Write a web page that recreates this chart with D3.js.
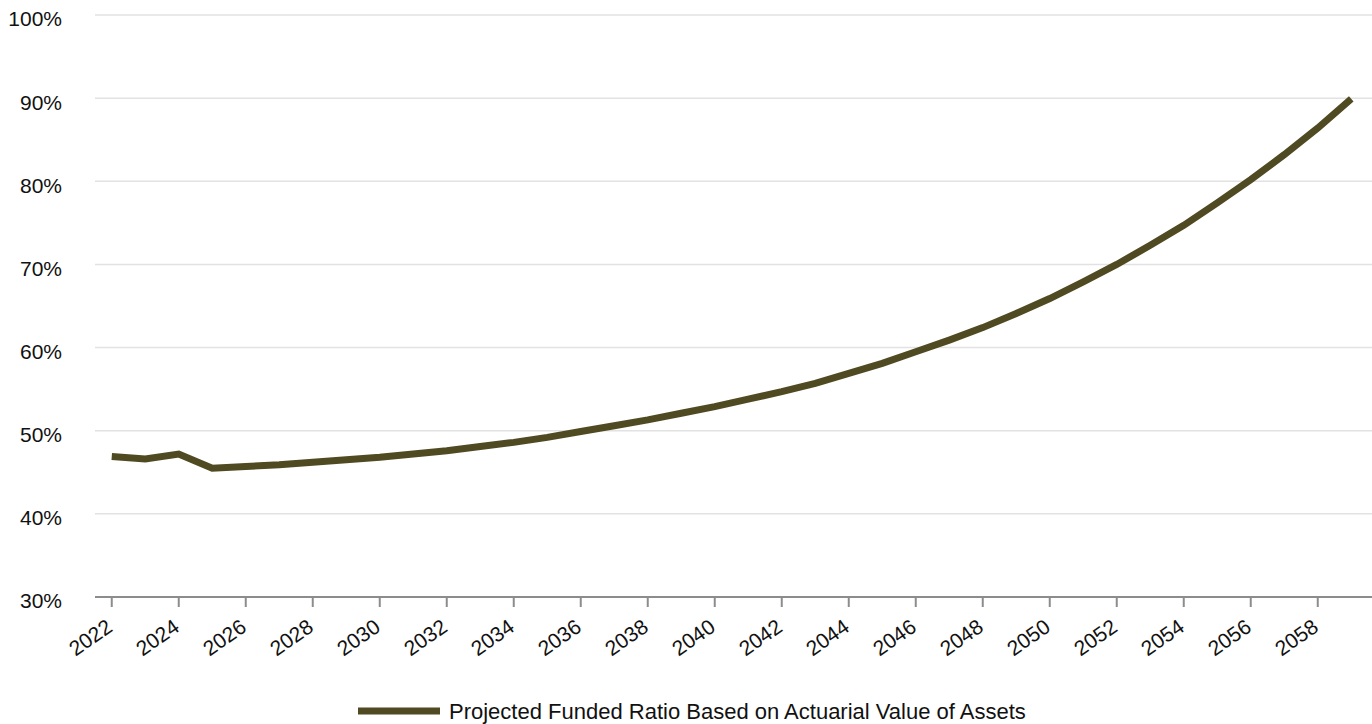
<!DOCTYPE html>
<html>
<head>
<meta charset="utf-8">
<script src="https://cdn.jsdelivr.net/npm/d3@7"></script>
<style>
html,body{margin:0;padding:0;background:#fff;}
svg{display:block;font-family:"Liberation Sans",Arial,sans-serif;}
</style>
</head>
<body>
<svg id="chart" width="1372" height="724"></svg>
<script>
const years = d3.range(2022, 2060).map(String);
const fundedRatio = [46.9, 46.6, 47.2, 45.5, 45.7, 45.9, 46.2, 46.5, 46.8, 47.2,
  47.6, 48.1, 48.6, 49.2, 49.9, 50.6, 51.3, 52.1, 52.9, 53.8,
  54.7, 55.7, 56.9, 58.1, 59.5, 60.9, 62.4, 64.1, 65.9, 67.9,
  70.0, 72.3, 74.7, 77.4, 80.2, 83.2, 86.4, 89.9];
const yTicks = [30, 40, 50, 60, 70, 80, 90, 100];
const xTickLabels = years.filter((d, i) => i % 2 === 0);
const seriesName = "Projected Funded Ratio Based on Actuarial Value of Assets";

(function () {
const svg = d3.select("#chart");
const mLeft = 95, mRight = 1368, mTop = 15, mBottom = 597;
const lineColor = "#4f4a21";
const font = "Liberation Sans, Arial, sans-serif";

const x = d3.scaleBand().domain(years).range([mLeft, mRight]);
const y = d3.scaleLinear().domain([30, 100]).range([mBottom, mTop]);

// gridlines
svg.append("g").selectAll("line").data(yTicks.filter(d => d > 30)).join("line")
  .attr("x1", mLeft).attr("x2", 1372)
  .attr("y1", d => y(d)).attr("y2", d => y(d))
  .attr("stroke", "#e2e2e2").attr("stroke-width", 1.5);

// y axis labels
const yAxis = d3.axisLeft(y).tickValues(yTicks).tickFormat(d => d + "%").tickSize(0).tickPadding(0);
const yg = svg.append("g").attr("transform", `translate(62,0)`).call(yAxis);
yg.select(".domain").remove();
yg.selectAll("text").attr("font-size", 21).attr("fill", "#111").attr("font-family", font)
  .attr("dy", "0.52em");

// x axis
const xAxis = d3.axisBottom(x).tickValues(xTickLabels).tickSize(10).tickSizeOuter(0).tickPadding(4);
const xg = svg.append("g").attr("transform", `translate(0,${mBottom})`).call(xAxis);
xg.select(".domain").attr("stroke", "#8c8c8c").attr("stroke-width", 2).attr("d", `M${mLeft},0H1372`);
xg.selectAll(".tick line").attr("stroke", "#8c8c8c").attr("stroke-width", 2);
xg.selectAll("text")
  .attr("font-size", 21).attr("fill", "#111").attr("font-family", font)
  .attr("text-anchor", "end")
  .attr("x", 0).attr("y", 0).attr("dy", 0)
  .attr("transform", "translate(2,33) rotate(-35)");

// line
const line = d3.line()
  .x((d, i) => x(years[i]) + x.bandwidth() / 2)
  .y(d => y(d));
svg.append("path").datum(fundedRatio)
  .attr("d", line).attr("fill", "none")
  .attr("stroke", lineColor).attr("stroke-width", 7)
  .attr("stroke-linejoin", "miter").attr("stroke-linecap", "butt");

// legend
const lg = svg.append("g").attr("transform", "translate(358,711)");
lg.append("line").attr("x1", 0).attr("x2", 82).attr("y1", 0).attr("y2", 0)
  .attr("stroke", lineColor).attr("stroke-width", 7);
lg.append("text").attr("x", 91).attr("y", 0).attr("dy", "0.35em")
  .attr("font-size", 22).attr("font-family", font).attr("fill", "#111").text(seriesName);
})();
</script>
</body>
</html>
